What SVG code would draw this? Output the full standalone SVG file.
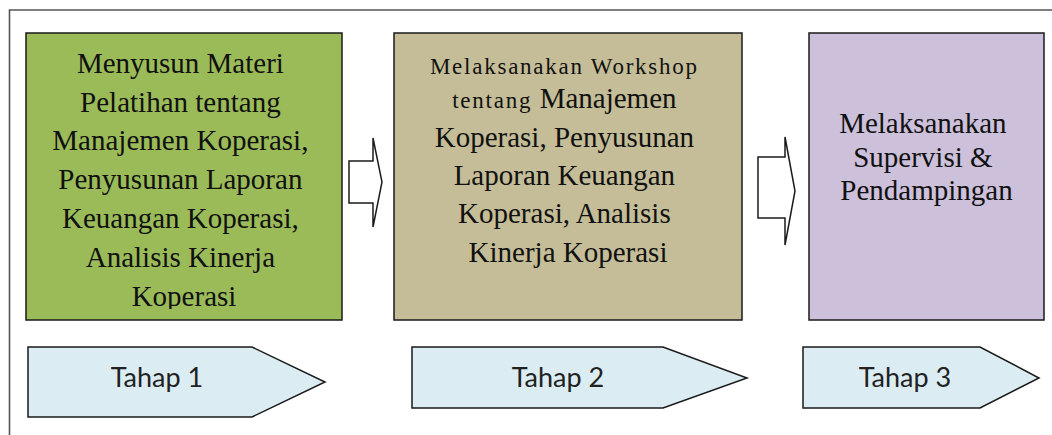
<svg xmlns="http://www.w3.org/2000/svg" width="1052" height="435" viewBox="0 0 1052 435">
  <style>
    .box { stroke: #1a1a1a; stroke-width: 1.5; }
    .step { fill: #dbedf3; stroke: #1a1a1a; stroke-width: 1.5; stroke-linejoin: miter; }
    .flow { fill: #ffffff; stroke: #1a1a1a; stroke-width: 1.5; stroke-linejoin: miter; }
    .serif { font-family: "Liberation Serif", "Times New Roman", serif; font-size: 29px; fill: #111111; text-anchor: middle; }
    .small { font-size: 23px; letter-spacing: 1.75px; }
    .label { font-family: Lato, "Liberation Sans", sans-serif; font-size: 27px; fill: #222222; text-anchor: middle; }
  </style>
  <defs>
    <clipPath id="clip-green">
      <rect x="26" y="33" width="316" height="276"/>
    </clipPath>
  </defs>

  <rect width="1052" height="435" fill="#ffffff"/>

  <!-- outer frame (left and top edges only) -->
  <path d="M9.5,435 V10 H1052" fill="none" stroke="#555555" stroke-width="1.6"/>

  <!-- stage 1: material preparation -->
  <g id="node-materi">
    <rect class="box" x="26" y="33" width="316" height="287" fill="#9bbb59"/>
    <g clip-path="url(#clip-green)">
      <text class="serif">
        <tspan x="184" y="73">Menyusun Materi</tspan>
        <tspan x="184" y="111.5">Pelatihan tentang</tspan>
        <tspan x="184" y="150">Manajemen Koperasi,</tspan>
        <tspan x="184" y="189">Penyusunan Laporan</tspan>
        <tspan x="184" y="228">Keuangan Koperasi,</tspan>
        <tspan x="184" y="267">Analisis Kinerja</tspan>
        <tspan x="184" y="305.5">Koperasi</tspan>
      </text>
    </g>
  </g>

  <!-- stage 2: workshop -->
  <g id="node-workshop">
    <rect class="box" x="394" y="33" width="348" height="287" fill="#c4bd97"/>
    <text class="serif">
      <tspan class="small" x="568" y="74">Melaksanakan Workshop</tspan>
      <tspan x="568" y="107.5"><tspan class="small">tentang </tspan>Manajemen</tspan>
      <tspan x="568" y="147">Koperasi, Penyusunan</tspan>
      <tspan x="568" y="185">Laporan Keuangan</tspan>
      <tspan x="568" y="223">Koperasi, Analisis</tspan>
      <tspan x="568" y="262">Kinerja Koperasi</tspan>
    </text>
  </g>

  <!-- stage 3: supervision -->
  <g id="node-supervisi">
    <rect class="box" x="809" y="33" width="235" height="287" fill="#ccc0da"/>
    <text class="serif">
      <tspan x="926.5" y="133">Melaksanakan</tspan>
      <tspan x="926.5" y="167">Supervisi &amp;</tspan>
      <tspan x="926.5" y="200">Pendampingan</tspan>
    </text>
  </g>

  <!-- stage labels -->
  <g id="label-tahap-1">
    <polygon class="step" points="28,347 252,347 325,382 252,417 28,417"/>
    <text class="label" x="157" y="387">Tahap 1</text>
  </g>
  <g id="label-tahap-2">
    <polygon class="step" points="412,347 663,347 747,378 663,408 412,408"/>
    <text class="label" x="558" y="387">Tahap 2</text>
  </g>
  <g id="label-tahap-3">
    <polygon class="step" points="803,347 980,347 1039,378 980,408 803,408"/>
    <text class="label" x="905" y="387">Tahap 3</text>
  </g>

  <!-- block arrows between stages -->
  <g id="connectors">
    <polygon class="flow" points="349,161 373,161 373,138 382,182 373,227 373,203 349,203"/>
    <polygon class="flow" points="758,157 785,157 785,137 795,191 785,245 785,218 758,218"/>
  </g>
</svg>
